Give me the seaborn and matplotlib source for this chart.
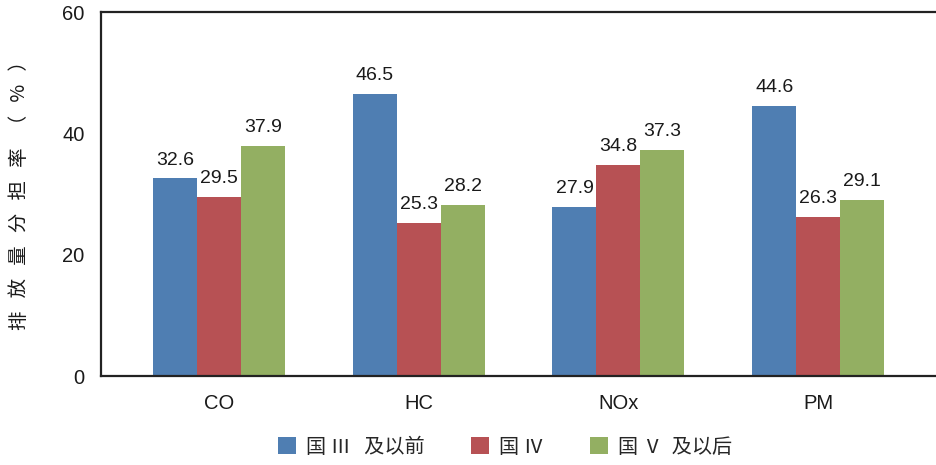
import matplotlib
matplotlib.use('Agg')
import matplotlib.pyplot as plt
import seaborn as sns
import pandas as pd

# data
pollutants = ['CO', 'HC', 'NOx', 'PM']
stages = ['国 Ⅲ   及以前', '国 Ⅳ', '国 Ⅴ  及以后']
guo3 = [32.6, 46.5, 27.9, 44.6]
guo4 = [29.5, 25.3, 34.8, 26.3]
guo5 = [37.9, 28.2, 37.3, 29.1]
colors = ['#4F7EB2', '#B75154', '#93AF62']

rows = []
for stage, vals in zip(stages, [guo3, guo4, guo5]):
    for p, v in zip(pollutants, vals):
        rows.append({'污染物': p, '阶段': stage, '分担率': v})
df = pd.DataFrame(rows)

sns.set_style('white')
plt.rcParams['font.family'] = ['Liberation Sans', 'Noto Sans CJK SC', 'DejaVu Sans']

fig, ax = plt.subplots(figsize=(9.36, 4.65), dpi=100)
fig.subplots_adjust(left=0.108, right=1.0, top=0.974, bottom=0.191)

sns.barplot(data=df, x='污染物', y='分担率', hue='阶段', palette=colors,
            width=0.66, saturation=1, linewidth=0, edgecolor='none',
            ax=ax, legend=True)

for cont in ax.containers:
    ax.bar_label(cont, fmt='%.1f', padding=7, fontsize=14, color='#1a1a1a')

ax.set_ylim(0, 60)
ax.set_yticks([0, 20, 40, 60])
ax.set_xlim(-0.59, 3.59)
ax.tick_params(axis='both', length=0, labelsize=14.5, colors='#1a1a1a')
ax.tick_params(axis='x', pad=13)
ax.tick_params(axis='y', pad=12)
ax.set_xlabel('')
ax.set_ylabel('排   放   量   分   担   率   （   %   ）', fontsize=14,
              family=['Noto Sans CJK SC', 'DejaVu Sans'], color='#1a1a1a')
ax.yaxis.set_label_coords(-0.085, 0.51)

for s in ['left', 'top', 'bottom']:
    ax.spines[s].set_color('#222222')
    ax.spines[s].set_linewidth(1.6)
ax.spines['right'].set_visible(False)

handles, labels = ax.get_legend_handles_labels()
ax.legend(handles, labels, loc='center', bbox_to_anchor=(0.484, -0.195),
          ncol=3, frameon=False, handlelength=0.9, handleheight=0.9,
          columnspacing=2.3, handletextpad=0.5,
          prop={'family': ['Noto Sans CJK SC', 'DejaVu Sans'], 'size': 14.5})

fig.savefig('out.png', dpi=100)
